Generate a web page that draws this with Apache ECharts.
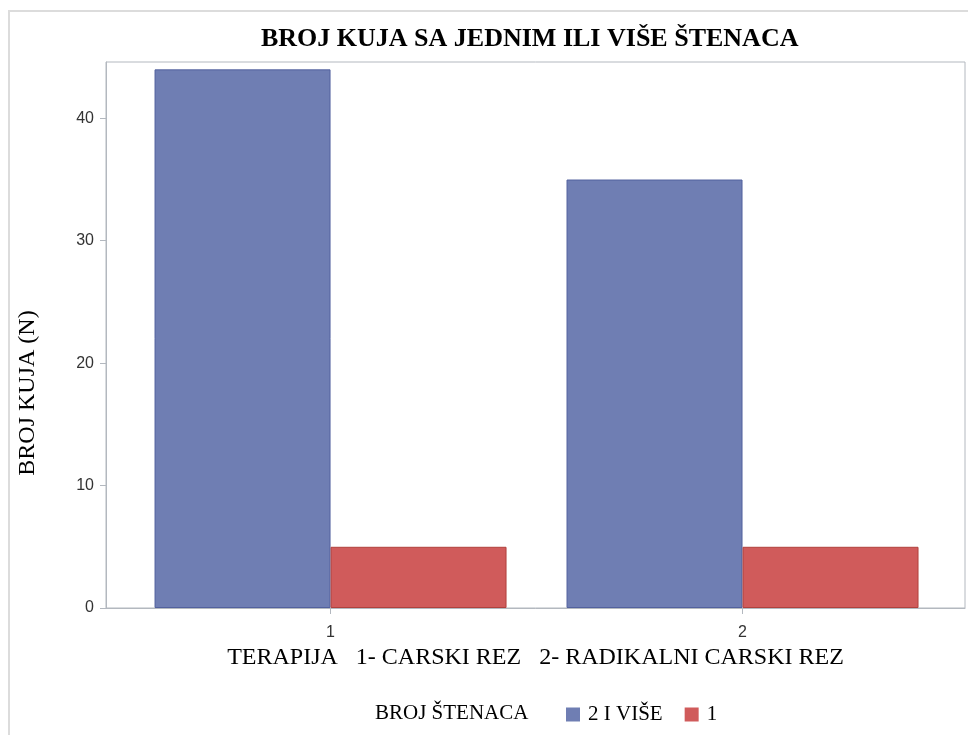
<!DOCTYPE html>
<html>
<head>
<meta charset="utf-8">
<script src="https://cdn.jsdelivr.net/npm/echarts@6/dist/echarts.min.js"></script>
<style>
  html, body { margin: 0; padding: 0; background: #fff; overflow: hidden; }
  .frame { position: absolute; left: 8px; top: 10px; width: 1000px; height: 800px; border: 2px solid #dcdcdc; }
  #chart { position: absolute; left: 0; top: 0; width: 968px; height: 735px; }
</style>
</head>
<body>
<div class="frame"></div>
<div id="chart"></div>
<script>
// data
const categories = [1, 2]
const seriesNames = ['2 I VIŠE', '1']
const moreValues = [44, 35]   // 2 i više štenaca
const oneValues = [5, 5]      // 1 štene
const colors = ['#6F7EB3', '#D05B5B']
const borders = ['#52619e', '#b0413d']

const serif = "'Liberation Serif', 'DejaVu Serif', serif"
const sans = "'Liberation Sans', Arial, sans-serif"

const chart = echarts.init(document.getElementById('chart'))
chart.setOption({
  animation: false,
  backgroundColor: 'transparent',
  textStyle: { fontFamily: serif },
  title: [
    { text: 'BROJ KUJA SA JEDNIM ILI VIŠE ŠTENACA', left: 256, top: 21,
      textStyle: { fontFamily: serif, fontSize: 26, fontWeight: 'bold', color: '#000' } },
    { text: 'BROJ ŠTENACA', left: 370, top: 698,
      textStyle: { fontFamily: serif, fontSize: 21, fontWeight: 'normal', color: '#000' } }
  ],
  legend: {
    data: seriesNames, left: 561, top: 699, itemWidth: 14, itemHeight: 14, itemGap: 22,
    icon: 'rect',
    itemStyle: { borderWidth: 0 },
    textStyle: { fontFamily: serif, fontSize: 21, color: '#000', padding: [0, 0, 0, 3] }
  },
  grid: { left: 106, right: 3, top: 62, bottom: 127, show: true, borderColor: '#b3b8bf', borderWidth: 1, backgroundColor: '#fff' },
  xAxis: {
    type: 'value', min: 0.455, max: 2.54,
    name: 'TERAPIJA   1- CARSKI REZ   2- RADIKALNI CARSKI REZ',
    nameLocation: 'middle', nameGap: 31,
    nameTextStyle: { fontFamily: serif, fontSize: 24, color: '#000' },
    axisLine: { lineStyle: { color: '#b3b8bf' } },
    axisTick: { customValues: categories, length: 6, lineStyle: { color: '#b3b8bf' } },
    axisLabel: { customValues: categories, fontFamily: sans, fontSize: 16, color: '#333', margin: 17 },
    splitLine: { show: false }
  },
  yAxis: {
    type: 'value', min: 0, max: 44.6, interval: 10,
    name: 'BROJ KUJA (N)', nameLocation: 'middle', nameGap: 66, nameRotate: 90,
    nameTextStyle: { fontFamily: serif, fontSize: 24, color: '#000', padding: [0, 116, 0, 0] },
    axisLine: { show: true, lineStyle: { color: '#b3b8bf' } },
    axisTick: { show: true, length: 6, lineStyle: { color: '#b3b8bf' } },
    axisLabel: { fontFamily: sans, fontSize: 16, color: '#333', margin: 12, showMaxLabel: false },
    splitLine: { show: false }
  },
  series: [
    { name: seriesNames[0], type: 'bar', barWidth: 176, barGap: '0%',
      data: categories.map((c, i) => [c, moreValues[i]]),
      itemStyle: { color: colors[0], borderColor: borders[0], borderWidth: 1 } },
    { name: seriesNames[1], type: 'bar', barWidth: 176, barGap: '0%',
      data: categories.map((c, i) => [c, oneValues[i]]),
      itemStyle: { color: colors[1], borderColor: borders[1], borderWidth: 1 } }
  ]
})
</script>
</body>
</html>
